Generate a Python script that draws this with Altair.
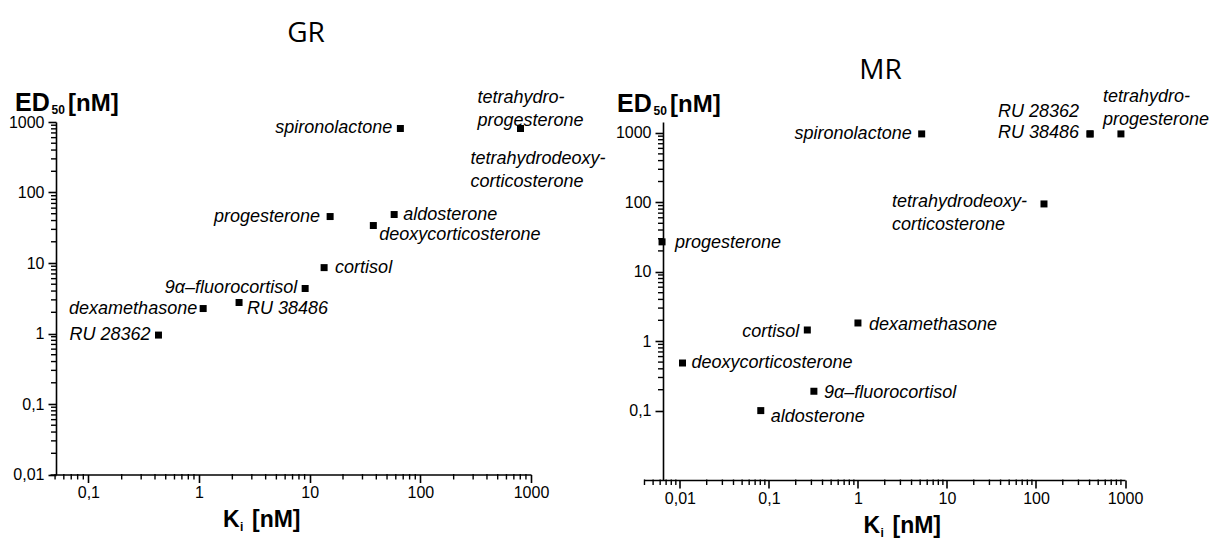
import altair as alt
import pandas as pd

FONT = "Liberation Sans"

# ---------------- data: GR panel ----------------
gr_names = ["RU 28362", "dexamethasone", "RU 38486", "9a-fluorocortisol", "cortisol",
            "progesterone", "deoxycorticosterone", "aldosterone", "spironolactone",
            "tetrahydroprogesterone", "tetrahydrodeoxycorticosterone"]
gr_ki = [0.43, 1.09, 2.3, 9.1, 13.5, 15.3, 37.6, 58, 66, 804, 804]
gr_ed50 = [0.95, 2.26, 2.75, 4.35, 8.6, 45.6, 34, 48.7, 809, 809, 809]

# ---------------- data: MR panel ----------------
mr_names = ["progesterone", "spironolactone", "RU 28362", "RU 38486", "tetrahydroprogesterone",
            "tetrahydrodeoxycorticosterone", "cortisol", "dexamethasone", "deoxycorticosterone",
            "9a-fluorocortisol", "aldosterone"]
mr_ki = [0.0063, 5.2, 405, 405, 900, 123, 0.27, 1.0, 0.0107, 0.32, 0.081]
mr_ed50 = [27, 970, 970, 970, 970, 95, 1.45, 1.83, 0.485, 0.19, 0.10]

# display texts
label_text = {
    "RU 28362": "RU 28362",
    "RU 38486": "RU 38486",
    "dexamethasone": "dexamethasone",
    "9a-fluorocortisol": "9\u03b1\u2013fluorocortisol",
    "cortisol": "cortisol",
    "progesterone": "progesterone",
    "deoxycorticosterone": "deoxycorticosterone",
    "aldosterone": "aldosterone",
    "spironolactone": "spironolactone",
    "tetrahydroprogesterone": "tetrahydro-\nprogesterone",
    "tetrahydrodeoxycorticosterone": "tetrahydrodeoxy-\ncorticosterone",
}

# tick values (labelled decades + unlabelled minor ticks)
gr_x_major = [0.1, 1, 10, 100, 1000]
gr_y_major = [0.01, 0.1, 1, 10, 100, 1000]
mr_x_major = [0.01, 0.1, 1, 10, 100, 1000]
mr_y_major = [0.1, 1, 10, 100, 1000]
mult = [2, 3, 4, 5, 6, 7, 8, 9]
gr_x_minor = [0.05, 0.06, 0.07, 0.08, 0.09] + [m * d for d in [0.1, 1, 10, 100] for m in mult]
gr_y_minor = [m * d for d in [0.01, 0.1, 1, 10, 100] for m in mult]
mr_x_minor = [0.004, 0.005, 0.006, 0.007, 0.008, 0.009] + [m * d for d in [0.01, 0.1, 1, 10, 100] for m in mult]
mr_y_minor = [m * d for d in [0.1, 1, 10, 100] for m in mult]

# label placement: (name, align, dx, dy)
gr_place = [
    ("RU 28362", "right", -8, 0),
    ("dexamethasone", "right", -6, 0),
    ("RU 38486", "left", 8, 6),
    ("9a-fluorocortisol", "right", -8, 0),
    ("cortisol", "left", 11, 0),
    ("progesterone", "right", -10, 0),
    ("aldosterone", "left", 9, 0),
    ("deoxycorticosterone", "left", 6, 9),
    ("spironolactone", "right", -8, 0),
    ("tetrahydroprogesterone", "left", -43, -30),
    ("tetrahydrodeoxycorticosterone", "left", -50, 31),
]
mr_place = [
    ("progesterone", "left", 13, 1),
    ("spironolactone", "right", -10, 0),
    ("RU 28362", "right", -11, -22),
    ("RU 38486", "right", -11, -1),
    ("tetrahydroprogesterone", "left", -18, -37),
    ("tetrahydrodeoxycorticosterone", "left", -152, -2),
    ("cortisol", "right", -8, 2),
    ("dexamethasone", "left", 11, 2),
    ("deoxycorticosterone", "left", 9, 0),
    ("9a-fluorocortisol", "left", 10, 2),
    ("aldosterone", "left", 10, 6),
]


def text_layer(s, x, y, size, weight="bold", font=FONT, align="left"):
    return alt.Chart(pd.DataFrame({"t": [s]})).mark_text(
        align=align, baseline="alphabetic", font=font, fontSize=size,
        fontWeight=weight, color="black"
    ).encode(x=alt.value(x), y=alt.value(y), text="t:N")


def make_axis(major, **kw):
    return alt.Axis(
        values=major, tickCount=50,
        domainColor="black", domainWidth=1.6, tickColor="black", tickWidth=1.6,
        tickSize=8, labelFont=FONT, labelFontSize=16, labelColor="black",
        grid=False, title=None,
        labelExpr="replace(toString(datum.value), '.', ',')",
        labelOverlap=False, labelBound=False, labelFlush=False, **kw)


def panel(names, ki, ed50, xdom, ydom, xmaj, ymaj, xmin, ymin, W, H, yoff, place, texts):
    df = pd.DataFrame({"name": names, "ki": ki, "ed50": ed50})
    xs = alt.Scale(type="log", domain=xdom, nice=False, zero=False)
    ys = alt.Scale(type="log", domain=ydom, nice=False, zero=False)
    xaxis = make_axis(xmaj, labelPadding=2)
    yaxis = make_axis(ymaj, labelPadding=4, offset=-yoff)
    pts = alt.Chart(df).mark_square(size=49, color="black", opacity=1).encode(
        x=alt.X("ki:Q", scale=xs, axis=xaxis), y=alt.Y("ed50:Q", scale=ys, axis=yaxis),
    )
    layers = [pts]
    for name, align, dx, dy in place:
        layers.append(
            alt.Chart(df).transform_filter(alt.datum.name == name).mark_text(
                text=label_text[name], align=align, baseline="middle", dx=dx, dy=dy,
                font=FONT, fontSize=18, fontStyle="italic", color="black",
                lineBreak="\n", lineHeight=23,
            ).encode(x=alt.X("ki:Q", scale=xs, axis=None),
                     y=alt.Y("ed50:Q", scale=ys, axis=None))
        )
    # minor ticks drawn through the same log scales
    layers.append(
        alt.Chart(pd.DataFrame({"v": xmin})).mark_rule(color="black", strokeWidth=1.4).encode(
            x=alt.X("v:Q", scale=xs, axis=None), y=alt.value(H - 0.5), y2=alt.value(H + 5))
    )
    layers.append(
        alt.Chart(pd.DataFrame({"v": ymin})).mark_rule(color="black", strokeWidth=1.4).encode(
            y=alt.Y("v:Q", scale=ys, axis=None), x=alt.value(yoff - 5), x2=alt.value(yoff + 0.5))
    )
    layers += texts
    return alt.layer(*layers).resolve_axis(x="independent", y="independent").properties(
        width=W, height=H)


left = panel(
    gr_names, gr_ki, gr_ed50, [0.045, 1000], [0.01, 1000],
    gr_x_major, gr_y_major, gr_x_minor, gr_y_minor, 481, 352.5, 6, gr_place,
    [
        text_layer("GR", 256, -80.5, 28, weight="normal", font="Open Sans", align="center"),
        text_layer("ED", -35, -11.5, 25),
        text_layer("50", 1.5, -8.5, 12),
        text_layer("[nM]", 18, -11.5, 24),
        text_layer("K", 173, 405, 23),
        text_layer("i", 190, 409, 12),
        text_layer("[nM]", 202, 405, 23),
    ],
)

right = panel(
    mr_names, mr_ki, mr_ed50, [0.0039, 1000], [0.01, 1440],
    mr_x_major, mr_y_major, mr_x_minor, mr_y_minor, 481.5, 358, 19.5, mr_place,
    [
        text_layer("MR", 237, -43, 28, weight="normal", font="Open Sans", align="center"),
        text_layer("ED", -26.5, -10, 25),
        text_layer("50", 10, -7, 12),
        text_layer("[nM]", 26.5, -10, 24),
        text_layer("K", 220, 411, 23),
        text_layer("i", 237, 415, 12),
        text_layer("[nM]", 249, 411, 23),
    ],
)

chart = alt.hconcat(left, right, spacing=112.5, bounds="flush").configure_view(
    stroke=None
).properties(
    padding={"left": 8, "top": 19, "right": 0, "bottom": 0},
    background="white",
)

chart.save("out.html", embed_options={"renderer": "svg", "actions": False})
